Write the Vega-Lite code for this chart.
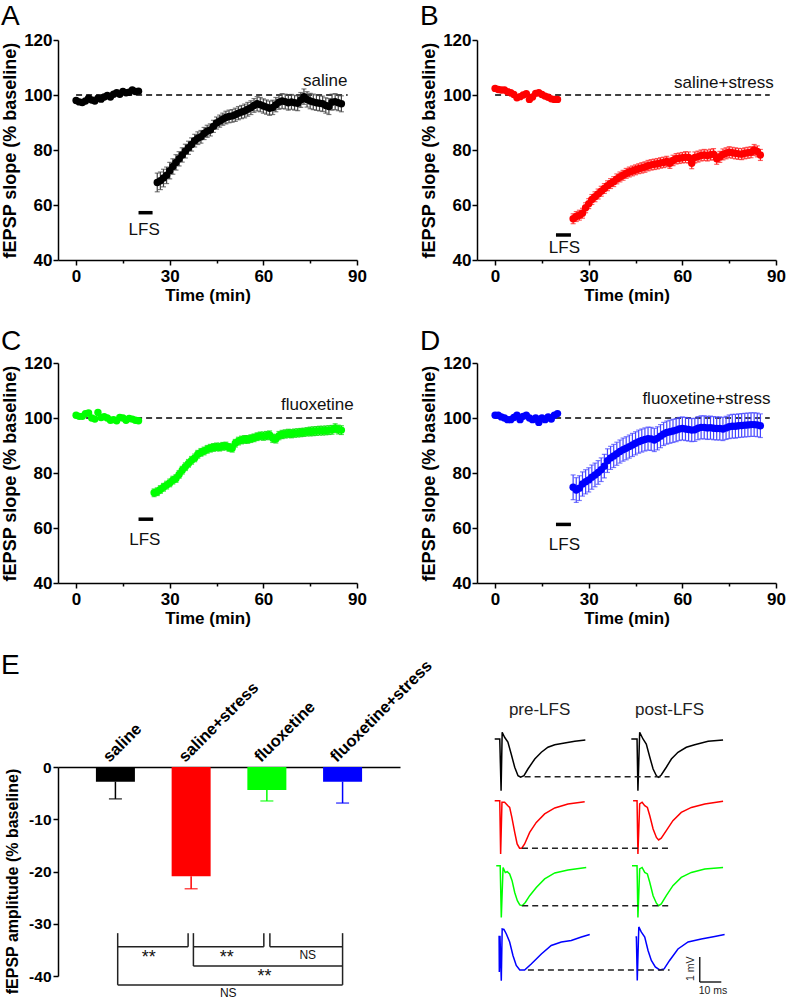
{
"$schema": "https://vega.github.io/schema/vega-lite/v6.json",
"background": "white",
"padding": {"left": 1, "top": 3, "right": 0, "bottom": 0},
"config": {
  "view": {"stroke": null},
  "font": "Liberation Sans",
  "axis": {"labelFont": "Liberation Sans", "labelFontWeight": "bold", "labelFontSize": 17, "labelColor": "black", "titleFont": "Liberation Sans", "titleFontWeight": "bold", "titleFontSize": 17, "titleColor": "black", "domainColor": "black", "domainWidth": 1.5, "tickColor": "black", "tickWidth": 1.5, "grid": false, "labelPadding": 2, "labelOverlap": false, "labelFlush": false},
  "title": {"font": "Liberation Sans", "fontSize": 28, "fontWeight": "normal", "anchor": "start", "color": "black"}
},
"datasets": {
  "A": [{"t":0,"v":98,"e":0.6},{"t":1,"v":97.5,"e":0.6},{"t":2,"v":97.3,"e":0.6},{"t":3,"v":97.8,"e":0.6},{"t":4,"v":98.8,"e":0.6},{"t":5,"v":98.2,"e":0.6},{"t":6,"v":97.8,"e":0.6},{"t":7,"v":98.8,"e":0.6},{"t":8,"v":98.5,"e":0.6},{"t":9,"v":99.3,"e":0.6},{"t":10,"v":99.8,"e":0.6},{"t":11,"v":99.3,"e":0.6},{"t":12,"v":100.3,"e":0.6},{"t":13,"v":100.8,"e":0.6},{"t":14,"v":100.3,"e":0.6},{"t":15,"v":101.3,"e":0.6},{"t":16,"v":100.8,"e":0.6},{"t":17,"v":101,"e":0.6},{"t":18,"v":101.8,"e":0.6},{"t":19,"v":101.3,"e":0.6},{"t":20,"v":101.4,"e":0.6},
  {"t":26,"v":68.2,"e":3.4},{"t":27,"v":68.8,"e":3.2},{"t":28,"v":69.8,"e":3.2},{"t":29,"v":70.8,"e":3},{"t":30,"v":72.5,"e":3},{"t":31,"v":74,"e":2.8},{"t":32,"v":75.5,"e":2.8},{"t":33,"v":76.8,"e":2.6},{"t":34,"v":78.2,"e":2.6},{"t":35,"v":79.6,"e":2.5},{"t":36,"v":80.8,"e":2.4},{"t":37,"v":82,"e":2.4},{"t":38,"v":83.4,"e":2.3},{"t":39,"v":84.3,"e":2.3},{"t":40,"v":84.8,"e":2.3},{"t":41,"v":86,"e":2.2},{"t":42,"v":86.8,"e":2.2},{"t":43,"v":87.3,"e":2.2},{"t":44,"v":88.6,"e":2.2},{"t":45,"v":89.8,"e":2.2},{"t":46,"v":90.5,"e":2.2},{"t":47,"v":91.2,"e":2.2},{"t":48,"v":91.8,"e":2.3},{"t":49,"v":92.2,"e":2.3},{"t":50,"v":92.4,"e":2.3},{"t":51,"v":92.8,"e":2.4},{"t":52,"v":93.4,"e":2.4},{"t":53,"v":93.8,"e":2.4},{"t":54,"v":94.2,"e":2.5},{"t":55,"v":94.8,"e":2.5},{"t":56,"v":95.4,"e":2.5},{"t":57,"v":96.2,"e":2.5},{"t":58,"v":96.8,"e":2.6},{"t":59,"v":96.5,"e":2.6},{"t":60,"v":96,"e":2.6},{"t":61,"v":95.6,"e":2.6},{"t":62,"v":95.2,"e":2.6},{"t":63,"v":95.5,"e":2.6},{"t":64,"v":96.5,"e":2.6},{"t":65,"v":97.4,"e":2.6},{"t":66,"v":97.8,"e":2.7},{"t":67,"v":97.6,"e":2.7},{"t":68,"v":97.2,"e":2.7},{"t":69,"v":97.5,"e":2.7},{"t":70,"v":97.2,"e":2.7},{"t":71,"v":97,"e":2.7},{"t":72,"v":98.2,"e":2.7},{"t":73,"v":99.4,"e":2.8},{"t":74,"v":98.4,"e":2.8},{"t":75,"v":97.8,"e":2.8},{"t":76,"v":97.5,"e":2.8},{"t":77,"v":97.2,"e":2.8},{"t":78,"v":97,"e":2.8},{"t":79,"v":96.8,"e":2.8},{"t":80,"v":96.2,"e":2.8},{"t":81,"v":95.8,"e":2.9},{"t":82,"v":97.4,"e":2.9},{"t":83,"v":97.6,"e":2.9},{"t":84,"v":97.2,"e":2.9},{"t":85,"v":96.8,"e":2.9}],
  "B": [{"t":0,"v":102.4,"e":0.6},{"t":1,"v":102,"e":0.6},{"t":2,"v":101.8,"e":0.6},{"t":3,"v":101.8,"e":0.6},{"t":4,"v":101.2,"e":0.6},{"t":5,"v":100.8,"e":0.6},{"t":6,"v":100.2,"e":0.6},{"t":7,"v":99,"e":0.6},{"t":8,"v":99.4,"e":0.6},{"t":9,"v":100,"e":0.6},{"t":10,"v":100.5,"e":0.6},{"t":11,"v":98.4,"e":0.6},{"t":12,"v":99.3,"e":0.6},{"t":13,"v":100.6,"e":0.6},{"t":14,"v":100.8,"e":0.6},{"t":15,"v":100.2,"e":0.6},{"t":16,"v":99.6,"e":0.6},{"t":17,"v":99.2,"e":0.6},{"t":18,"v":98.6,"e":0.6},{"t":19,"v":98.4,"e":0.6},{"t":20,"v":98.4,"e":0.6},
  {"t":25,"v":55,"e":1.8},{"t":26,"v":55.8,"e":1.8},{"t":27,"v":56.3,"e":1.8},{"t":28,"v":57,"e":1.8},{"t":29,"v":59,"e":1.8},{"t":30,"v":60.5,"e":1.8},{"t":31,"v":62,"e":1.8},{"t":32,"v":63,"e":1.8},{"t":33,"v":64,"e":1.8},{"t":34,"v":65,"e":1.8},{"t":35,"v":66,"e":1.8},{"t":36,"v":67,"e":1.8},{"t":37,"v":67.8,"e":1.8},{"t":38,"v":68.5,"e":1.8},{"t":39,"v":69.5,"e":1.8},{"t":40,"v":70.2,"e":1.8},{"t":41,"v":70.8,"e":1.8},{"t":42,"v":71.5,"e":1.8},{"t":43,"v":72,"e":1.8},{"t":44,"v":72.4,"e":1.8},{"t":45,"v":72.8,"e":1.8},{"t":46,"v":73.2,"e":1.8},{"t":47,"v":73.5,"e":1.9},{"t":48,"v":73.8,"e":1.9},{"t":49,"v":74.3,"e":1.9},{"t":50,"v":74.6,"e":1.9},{"t":51,"v":74.8,"e":1.9},{"t":52,"v":75,"e":1.9},{"t":53,"v":75.3,"e":1.9},{"t":54,"v":75.5,"e":1.9},{"t":55,"v":75.8,"e":1.9},{"t":56,"v":75.2,"e":1.9},{"t":57,"v":76.2,"e":1.9},{"t":58,"v":76.8,"e":1.9},{"t":59,"v":77,"e":1.9},{"t":60,"v":77.2,"e":1.9},{"t":61,"v":77.4,"e":2},{"t":62,"v":77.3,"e":2},{"t":63,"v":75.2,"e":2},{"t":64,"v":77.3,"e":2},{"t":65,"v":77.6,"e":2},{"t":66,"v":78,"e":2},{"t":67,"v":78.2,"e":2},{"t":68,"v":78,"e":2},{"t":69,"v":78.3,"e":2},{"t":70,"v":78.5,"e":2},{"t":71,"v":76.8,"e":2},{"t":72,"v":77.5,"e":2},{"t":73,"v":78.4,"e":2},{"t":74,"v":78.8,"e":2},{"t":75,"v":79.2,"e":2},{"t":76,"v":79,"e":2},{"t":77,"v":78.8,"e":2},{"t":78,"v":78.6,"e":2},{"t":79,"v":78.5,"e":2},{"t":80,"v":78.8,"e":2},{"t":81,"v":79,"e":2},{"t":82,"v":79.2,"e":2},{"t":83,"v":80,"e":2},{"t":84,"v":79.5,"e":2},{"t":85,"v":78.2,"e":2}],
  "C": [{"t":0,"v":101,"e":0.6},{"t":1,"v":100.6,"e":0.6},{"t":2,"v":100.6,"e":0.6},{"t":3,"v":101.6,"e":0.6},{"t":4,"v":101.8,"e":0.6},{"t":5,"v":100,"e":0.6},{"t":6,"v":99.6,"e":0.6},{"t":7,"v":102,"e":0.6},{"t":8,"v":100.2,"e":0.6},{"t":9,"v":100.5,"e":0.6},{"t":10,"v":100,"e":0.6},{"t":11,"v":99.2,"e":0.6},{"t":12,"v":99.4,"e":0.6},{"t":13,"v":99,"e":0.6},{"t":14,"v":100.2,"e":0.6},{"t":15,"v":100,"e":0.6},{"t":16,"v":99.2,"e":0.6},{"t":17,"v":99.8,"e":0.6},{"t":18,"v":99.6,"e":0.6},{"t":19,"v":99.2,"e":0.6},{"t":20,"v":99,"e":0.6},
  {"t":25,"v":72.8,"e":1.4},{"t":26,"v":73.2,"e":1.4},{"t":27,"v":74,"e":1.4},{"t":28,"v":74.8,"e":1.4},{"t":29,"v":75.6,"e":1.4},{"t":30,"v":76.4,"e":1.4},{"t":31,"v":77.4,"e":1.4},{"t":32,"v":78,"e":1.4},{"t":33,"v":79.5,"e":1.4},{"t":34,"v":81,"e":1.4},{"t":35,"v":82.3,"e":1.4},{"t":36,"v":83.5,"e":1.4},{"t":37,"v":84.6,"e":1.4},{"t":38,"v":85.5,"e":1.4},{"t":39,"v":86.8,"e":1.4},{"t":40,"v":87.5,"e":1.4},{"t":41,"v":88,"e":1.4},{"t":42,"v":88.6,"e":1.4},{"t":43,"v":89,"e":1.4},{"t":44,"v":89.3,"e":1.4},{"t":45,"v":89.5,"e":1.4},{"t":46,"v":89.4,"e":1.4},{"t":47,"v":89.7,"e":1.4},{"t":48,"v":89.8,"e":1.4},{"t":49,"v":89.3,"e":1.4},{"t":50,"v":89,"e":1.4},{"t":51,"v":90.8,"e":1.4},{"t":52,"v":91.6,"e":1.4},{"t":53,"v":92,"e":1.4},{"t":54,"v":92.2,"e":1.4},{"t":55,"v":92.2,"e":1.4},{"t":56,"v":92.5,"e":1.4},{"t":57,"v":92.8,"e":1.4},{"t":58,"v":93.2,"e":1.4},{"t":59,"v":93.5,"e":1.4},{"t":60,"v":93.4,"e":1.5},{"t":61,"v":93.6,"e":1.5},{"t":62,"v":93.8,"e":1.5},{"t":63,"v":92.6,"e":1.5},{"t":64,"v":92.4,"e":1.5},{"t":65,"v":93.6,"e":1.5},{"t":66,"v":94,"e":1.5},{"t":67,"v":94.2,"e":1.5},{"t":68,"v":94.4,"e":1.5},{"t":69,"v":94.3,"e":1.5},{"t":70,"v":94.5,"e":1.5},{"t":71,"v":94.6,"e":1.5},{"t":72,"v":94.7,"e":1.5},{"t":73,"v":94.8,"e":1.5},{"t":74,"v":95,"e":1.5},{"t":75,"v":95.1,"e":1.6},{"t":76,"v":95.2,"e":1.6},{"t":77,"v":95.3,"e":1.6},{"t":78,"v":95.4,"e":1.6},{"t":79,"v":95.4,"e":1.6},{"t":80,"v":95.5,"e":1.6},{"t":81,"v":95.6,"e":1.6},{"t":82,"v":95.7,"e":1.6},{"t":83,"v":96.3,"e":1.6},{"t":84,"v":95.8,"e":1.6},{"t":85,"v":95.6,"e":1.6}],
  "D": [{"t":0,"v":101,"e":0.6},{"t":1,"v":101,"e":0.6},{"t":2,"v":100.4,"e":0.6},{"t":3,"v":100,"e":0.6},{"t":4,"v":99.4,"e":0.6},{"t":5,"v":99.4,"e":0.6},{"t":6,"v":100.2,"e":0.6},{"t":7,"v":101,"e":0.6},{"t":8,"v":99.4,"e":0.6},{"t":9,"v":100.6,"e":0.6},{"t":10,"v":101,"e":0.6},{"t":11,"v":100,"e":0.6},{"t":12,"v":99.4,"e":0.6},{"t":13,"v":100,"e":0.6},{"t":14,"v":98.4,"e":0.6},{"t":15,"v":100,"e":0.6},{"t":16,"v":99.4,"e":0.6},{"t":17,"v":100.4,"e":0.6},{"t":18,"v":99.6,"e":0.6},{"t":19,"v":101,"e":0.6},{"t":20,"v":101.6,"e":0.6},
  {"t":25,"v":74.8,"e":4.5},{"t":26,"v":73.8,"e":4.5},{"t":27,"v":74.5,"e":4.5},{"t":28,"v":76,"e":4.4},{"t":29,"v":76.8,"e":4.4},{"t":30,"v":77.5,"e":4.4},{"t":31,"v":78.5,"e":4.4},{"t":32,"v":79.3,"e":4.3},{"t":33,"v":80.2,"e":4.3},{"t":34,"v":81.2,"e":4.3},{"t":35,"v":82.5,"e":4.3},{"t":36,"v":84.5,"e":4.3},{"t":37,"v":85.5,"e":4.2},{"t":38,"v":86.2,"e":4.2},{"t":39,"v":87,"e":4.2},{"t":40,"v":87.8,"e":4.2},{"t":41,"v":88.5,"e":4.2},{"t":42,"v":89,"e":4.2},{"t":43,"v":89.6,"e":4.2},{"t":44,"v":90.2,"e":4.2},{"t":45,"v":90.8,"e":4.2},{"t":46,"v":91.4,"e":4.2},{"t":47,"v":91.8,"e":4.2},{"t":48,"v":92.2,"e":4.2},{"t":49,"v":92.5,"e":4.2},{"t":50,"v":92.4,"e":4.2},{"t":51,"v":92,"e":4.2},{"t":52,"v":92.6,"e":4.2},{"t":53,"v":93.4,"e":4.2},{"t":54,"v":94.2,"e":4.2},{"t":55,"v":94.7,"e":4.2},{"t":56,"v":95,"e":4.2},{"t":57,"v":95.3,"e":4.2},{"t":58,"v":95.6,"e":4.2},{"t":59,"v":96,"e":4.2},{"t":60,"v":96.2,"e":4.2},{"t":61,"v":96,"e":4.2},{"t":62,"v":95.8,"e":4.2},{"t":63,"v":95.6,"e":4.2},{"t":64,"v":95.7,"e":4.2},{"t":65,"v":96.3,"e":4.2},{"t":66,"v":96.6,"e":4.2},{"t":67,"v":96.6,"e":4.2},{"t":68,"v":96.4,"e":4.2},{"t":69,"v":96.5,"e":4.2},{"t":70,"v":96.3,"e":4.2},{"t":71,"v":96.2,"e":4.2},{"t":72,"v":96.2,"e":4.2},{"t":73,"v":96,"e":4.2},{"t":74,"v":96.4,"e":4.2},{"t":75,"v":96.8,"e":4.3},{"t":76,"v":97,"e":4.3},{"t":77,"v":97,"e":4.3},{"t":78,"v":97.2,"e":4.3},{"t":79,"v":97.3,"e":4.3},{"t":80,"v":97.4,"e":4.3},{"t":81,"v":97.5,"e":4.3},{"t":82,"v":97.6,"e":4.3},{"t":83,"v":97.6,"e":4.3},{"t":84,"v":97.5,"e":4.3},{"t":85,"v":97.2,"e":4.3}],
  "bars": [{"g":"saline","i":1,"m":-2.8,"lo":-6.1},{"g":"saline+stress","i":2,"m":-20.9,"lo":-23.3},{"g":"fluoxetine","i":3,"m":-4.4,"lo":-6.5},{"g":"fluoxetine+stress","i":4,"m":-2.8,"lo":-6.9}],
  "tr": [
  {"g":"saline","ph":"pre","t":0,"v":0},{"g":"saline","ph":"pre","t":2.3,"v":0},{"g":"saline","ph":"pre","t":2.9,"v":-2.07},{"g":"saline","ph":"pre","t":3.4,"v":0.27},{"g":"saline","ph":"pre","t":4.5,"v":0.07},{"g":"saline","ph":"pre","t":6.0,"v":-0.12},{"g":"saline","ph":"pre","t":7.5,"v":-0.6},{"g":"saline","ph":"pre","t":9.1,"v":-1.13},{"g":"saline","ph":"pre","t":10.6,"v":-1.47},{"g":"saline","ph":"pre","t":11.8,"v":-1.53},{"g":"saline","ph":"pre","t":13.3,"v":-1.47},{"g":"saline","ph":"pre","t":15.1,"v":-1.2},{"g":"saline","ph":"pre","t":18.2,"v":-0.8},{"g":"saline","ph":"pre","t":21.2,"v":-0.53},{"g":"saline","ph":"pre","t":24.2,"v":-0.33},{"g":"saline","ph":"pre","t":27.3,"v":-0.23},{"g":"saline","ph":"pre","t":31.8,"v":-0.16},{"g":"saline","ph":"pre","t":36.4,"v":-0.09},{"g":"saline","ph":"pre","t":41.2,"v":-0.04},
  {"g":"saline","ph":"post","t":62.1,"v":0},{"g":"saline","ph":"post","t":64.7,"v":0},{"g":"saline","ph":"post","t":65.1,"v":-2.07},{"g":"saline","ph":"post","t":65.9,"v":0.27},{"g":"saline","ph":"post","t":67.4,"v":0},{"g":"saline","ph":"post","t":68.9,"v":-0.2},{"g":"saline","ph":"post","t":70.5,"v":-0.73},{"g":"saline","ph":"post","t":72.0,"v":-1.2},{"g":"saline","ph":"post","t":73.5,"v":-1.47},{"g":"saline","ph":"post","t":74.5,"v":-1.53},{"g":"saline","ph":"post","t":75.7,"v":-1.44},{"g":"saline","ph":"post","t":78.0,"v":-1.13},{"g":"saline","ph":"post","t":80.3,"v":-0.8},{"g":"saline","ph":"post","t":83.3,"v":-0.53},{"g":"saline","ph":"post","t":87.1,"v":-0.33},{"g":"saline","ph":"post","t":90.9,"v":-0.23},{"g":"saline","ph":"post","t":97.0,"v":-0.09},{"g":"saline","ph":"post","t":103.8,"v":-0.04},
  {"g":"saline+stress","ph":"pre","t":0,"v":0},{"g":"saline+stress","ph":"pre","t":2.3,"v":0},{"g":"saline+stress","ph":"pre","t":2.7,"v":-2.13},{"g":"saline+stress","ph":"pre","t":3.3,"v":-0.06},{"g":"saline+stress","ph":"pre","t":4.5,"v":-0.06},{"g":"saline+stress","ph":"pre","t":6.0,"v":-0.2},{"g":"saline+stress","ph":"pre","t":6.8,"v":-0.27},{"g":"saline+stress","ph":"pre","t":7.8,"v":-0.67},{"g":"saline+stress","ph":"pre","t":9.1,"v":-1.27},{"g":"saline+stress","ph":"pre","t":10.2,"v":-1.73},{"g":"saline+stress","ph":"pre","t":11.3,"v":-1.9},{"g":"saline+stress","ph":"pre","t":12.3,"v":-1.9},{"g":"saline+stress","ph":"pre","t":13.6,"v":-1.73},{"g":"saline+stress","ph":"pre","t":15.9,"v":-1.27},{"g":"saline+stress","ph":"pre","t":18.9,"v":-0.87},{"g":"saline+stress","ph":"pre","t":22.7,"v":-0.53},{"g":"saline+stress","ph":"pre","t":27.3,"v":-0.29},{"g":"saline+stress","ph":"pre","t":33.3,"v":-0.13},{"g":"saline+stress","ph":"pre","t":40.9,"v":-0.04},
  {"g":"saline+stress","ph":"post","t":62.9,"v":0},{"g":"saline+stress","ph":"post","t":64.7,"v":0},{"g":"saline+stress","ph":"post","t":65.1,"v":-2.13},{"g":"saline+stress","ph":"post","t":65.9,"v":-0.13},{"g":"saline+stress","ph":"post","t":67.0,"v":-0.06},{"g":"saline+stress","ph":"post","t":68.2,"v":-0.2},{"g":"saline+stress","ph":"post","t":69.4,"v":-0.27},{"g":"saline+stress","ph":"post","t":70.5,"v":-0.6},{"g":"saline+stress","ph":"post","t":72.0,"v":-1.13},{"g":"saline+stress","ph":"post","t":73.5,"v":-1.47},{"g":"saline+stress","ph":"post","t":74.5,"v":-1.57},{"g":"saline+stress","ph":"post","t":75.7,"v":-1.5},{"g":"saline+stress","ph":"post","t":78.0,"v":-1.2},{"g":"saline+stress","ph":"post","t":81.0,"v":-0.8},{"g":"saline+stress","ph":"post","t":84.8,"v":-0.47},{"g":"saline+stress","ph":"post","t":89.4,"v":-0.27},{"g":"saline+stress","ph":"post","t":95.5,"v":-0.13},{"g":"saline+stress","ph":"post","t":103.8,"v":-0.02},
  {"g":"fluoxetine","ph":"pre","t":0.7,"v":0},{"g":"fluoxetine","ph":"pre","t":2.5,"v":0},{"g":"fluoxetine","ph":"pre","t":3.0,"v":-2.07},{"g":"fluoxetine","ph":"pre","t":3.8,"v":-0.07},{"g":"fluoxetine","ph":"pre","t":4.8,"v":-0.27},{"g":"fluoxetine","ph":"pre","t":5.7,"v":-0.24},{"g":"fluoxetine","ph":"pre","t":6.8,"v":-0.33},{"g":"fluoxetine","ph":"pre","t":7.9,"v":-0.6},{"g":"fluoxetine","ph":"pre","t":9.1,"v":-1.07},{"g":"fluoxetine","ph":"pre","t":10.3,"v":-1.4},{"g":"fluoxetine","ph":"pre","t":11.4,"v":-1.57},{"g":"fluoxetine","ph":"pre","t":12.5,"v":-1.6},{"g":"fluoxetine","ph":"pre","t":13.9,"v":-1.47},{"g":"fluoxetine","ph":"pre","t":15.9,"v":-1.2},{"g":"fluoxetine","ph":"pre","t":18.9,"v":-0.87},{"g":"fluoxetine","ph":"pre","t":22.7,"v":-0.53},{"g":"fluoxetine","ph":"pre","t":27.3,"v":-0.29},{"g":"fluoxetine","ph":"pre","t":33.3,"v":-0.17},{"g":"fluoxetine","ph":"pre","t":41.6,"v":-0.07},
  {"g":"fluoxetine","ph":"post","t":62.4,"v":0},{"g":"fluoxetine","ph":"post","t":64.7,"v":0},{"g":"fluoxetine","ph":"post","t":65.1,"v":-2.07},{"g":"fluoxetine","ph":"post","t":65.9,"v":-0.13},{"g":"fluoxetine","ph":"post","t":67.0,"v":-0.07},{"g":"fluoxetine","ph":"post","t":68.2,"v":-0.27},{"g":"fluoxetine","ph":"post","t":69.4,"v":-0.33},{"g":"fluoxetine","ph":"post","t":70.5,"v":-0.67},{"g":"fluoxetine","ph":"post","t":72.0,"v":-1.2},{"g":"fluoxetine","ph":"post","t":73.5,"v":-1.5},{"g":"fluoxetine","ph":"post","t":74.5,"v":-1.6},{"g":"fluoxetine","ph":"post","t":75.7,"v":-1.53},{"g":"fluoxetine","ph":"post","t":78.0,"v":-1.2},{"g":"fluoxetine","ph":"post","t":81.0,"v":-0.8},{"g":"fluoxetine","ph":"post","t":84.8,"v":-0.47},{"g":"fluoxetine","ph":"post","t":89.4,"v":-0.27},{"g":"fluoxetine","ph":"post","t":95.5,"v":-0.13},{"g":"fluoxetine","ph":"post","t":103.8,"v":-0.07},
  {"g":"fluoxetine+stress","ph":"pre","t":2.0,"v":0},{"g":"fluoxetine+stress","ph":"pre","t":2.1,"v":-1.45},{"g":"fluoxetine+stress","ph":"pre","t":2.4,"v":0},{"g":"fluoxetine+stress","ph":"pre","t":3.0,"v":-1.8},{"g":"fluoxetine+stress","ph":"pre","t":3.4,"v":0.27},{"g":"fluoxetine+stress","ph":"pre","t":4.2,"v":0.25},{"g":"fluoxetine+stress","ph":"pre","t":5.3,"v":0.07},{"g":"fluoxetine+stress","ph":"pre","t":6.8,"v":-0.25},{"g":"fluoxetine+stress","ph":"pre","t":8.3,"v":-0.79},{"g":"fluoxetine+stress","ph":"pre","t":9.8,"v":-1.19},{"g":"fluoxetine+stress","ph":"pre","t":11.4,"v":-1.37},{"g":"fluoxetine+stress","ph":"pre","t":13.6,"v":-1.37},{"g":"fluoxetine+stress","ph":"pre","t":16.6,"v":-1.13},{"g":"fluoxetine+stress","ph":"pre","t":21.2,"v":-0.73},{"g":"fluoxetine+stress","ph":"pre","t":25.7,"v":-0.39},{"g":"fluoxetine+stress","ph":"pre","t":30.3,"v":-0.25},{"g":"fluoxetine+stress","ph":"pre","t":34.8,"v":-0.19},{"g":"fluoxetine+stress","ph":"pre","t":39.4,"v":-0.05},{"g":"fluoxetine+stress","ph":"pre","t":43.2,"v":0.05},
  {"g":"fluoxetine+stress","ph":"post","t":64.0,"v":-0.05},{"g":"fluoxetine+stress","ph":"post","t":64.4,"v":-0.05},{"g":"fluoxetine+stress","ph":"post","t":64.8,"v":-1.79},{"g":"fluoxetine+stress","ph":"post","t":65.5,"v":0.35},{"g":"fluoxetine+stress","ph":"post","t":66.6,"v":0.15},{"g":"fluoxetine+stress","ph":"post","t":68.2,"v":-0.05},{"g":"fluoxetine+stress","ph":"post","t":69.7,"v":-0.59},{"g":"fluoxetine+stress","ph":"post","t":71.2,"v":-0.99},{"g":"fluoxetine+stress","ph":"post","t":73.0,"v":-1.25},{"g":"fluoxetine+stress","ph":"post","t":75.0,"v":-1.37},{"g":"fluoxetine+stress","ph":"post","t":77.0,"v":-1.33},{"g":"fluoxetine+stress","ph":"post","t":79.5,"v":-0.99},{"g":"fluoxetine+stress","ph":"post","t":83.3,"v":-0.53},{"g":"fluoxetine+stress","ph":"post","t":87.9,"v":-0.25},{"g":"fluoxetine+stress","ph":"post","t":93.9,"v":-0.13},{"g":"fluoxetine+stress","ph":"post","t":100.0,"v":-0.03},{"g":"fluoxetine+stress","ph":"post","t":104.5,"v":0.05}
  ]
},
"spacing": 25,
"vconcat": [
 {"hconcat": [
  {"width": 299, "height": 220,
   "title": {"text": "A", "frame": "group", "dx": -57, "offset": -22, "baseline": "alphabetic"},
   "layer": [
    {"data": {"values": [{"t":0,"t2":87,"v":100}]}, "mark": {"type":"rule","strokeDash":[6,4],"strokeWidth":1.5,"color":"black"},
     "encoding": {"x": {"field":"t","type":"quantitative","title":"Time (min)","scale":{"domain":[-5.8,90],"nice":false,"zero":false},"axis":{"values":[0,15,30,45,60,75,90],"labelExpr":"datum.value % 30 === 0 ? datum.label : ''","tickSize":{"condition":{"test":"datum.value % 30 === 0","value":5},"value":3},"labelPadding":3,"titlePadding":3}},
      "x2": {"field":"t2"},
      "y": {"field":"v","type":"quantitative","title":"fEPSP slope (% baseline)","scale":{"domain":[40,120],"nice":false,"zero":false},"axis":{"values":[40,50,60,70,80,90,100,110,120],"labelExpr":"datum.value % 20 === 0 ? datum.label : ''","tickSize":{"condition":{"test":"datum.value % 20 === 0","value":5},"value":3},"titleFontSize":18,"titlePadding":4,"labelPadding":1}}}},
    {"data": {"values": [{"t":20,"t2":24.5,"v":57.2}]}, "mark": {"type":"rule","strokeWidth":3.5,"color":"black"},
     "encoding": {"x": {"field":"t","type":"quantitative","title":"Time (min)","scale":{"domain":[-5.8,90],"nice":false,"zero":false}}, "x2": {"field":"t2"}, "y": {"field":"v","type":"quantitative","title":"fEPSP slope (% baseline)","scale":{"domain":[40,120],"nice":false,"zero":false}}}},
    {"data": {"values": [{"t":21.8,"v":50.8,"s":"LFS"},{"t":79.8,"v":105,"s":"saline"}]}, "mark": {"type":"text","fontSize":17,"baseline":"middle","align":"center","color":"#111111"},
     "encoding": {"x": {"field":"t","type":"quantitative","title":"Time (min)","scale":{"domain":[-5.8,90],"nice":false,"zero":false}}, "y": {"field":"v","type":"quantitative","title":"fEPSP slope (% baseline)","scale":{"domain":[40,120],"nice":false,"zero":false}}, "text": {"field":"s"}}},
    {"data": {"name": "A"}, "mark": {"type":"errorbar","ticks":true,"size":5,"thickness":1.2,"color":"#444444"},
     "encoding": {"x": {"field":"t","type":"quantitative","title":"Time (min)","scale":{"domain":[-5.8,90],"nice":false,"zero":false}}, "y": {"field":"v","type":"quantitative","title":"fEPSP slope (% baseline)","scale":{"domain":[40,120],"nice":false,"zero":false}}, "yError": {"field":"e"}}},
    {"data": {"name": "A"}, "mark": {"type":"circle","size":55,"opacity":1,"color":"black"},
     "encoding": {"x": {"field":"t","type":"quantitative","title":"Time (min)","scale":{"domain":[-5.8,90],"nice":false,"zero":false}}, "y": {"field":"v","type":"quantitative","title":"fEPSP slope (% baseline)","scale":{"domain":[40,120],"nice":false,"zero":false}}}}
   ]},
  {"width": 299, "height": 220,
   "title": {"text": "B", "frame": "group", "dx": -57, "offset": -22, "baseline": "alphabetic"},
   "layer": [
    {"data": {"values": [{"t":0,"t2":88,"v":100}]}, "mark": {"type":"rule","strokeDash":[6,4],"strokeWidth":1.5,"color":"black"},
     "encoding": {"x": {"field":"t","type":"quantitative","title":"Time (min)","scale":{"domain":[-5.8,90],"nice":false,"zero":false},"axis":{"values":[0,15,30,45,60,75,90],"labelExpr":"datum.value % 30 === 0 ? datum.label : ''","tickSize":{"condition":{"test":"datum.value % 30 === 0","value":5},"value":3},"labelPadding":3,"titlePadding":3}},
      "x2": {"field":"t2"},
      "y": {"field":"v","type":"quantitative","title":"fEPSP slope (% baseline)","scale":{"domain":[40,120],"nice":false,"zero":false},"axis":{"values":[40,50,60,70,80,90,100,110,120],"labelExpr":"datum.value % 20 === 0 ? datum.label : ''","tickSize":{"condition":{"test":"datum.value % 20 === 0","value":5},"value":3},"titleFontSize":18,"titlePadding":4,"labelPadding":1}}}},
    {"data": {"values": [{"t":19.5,"t2":24.3,"v":49.1}]}, "mark": {"type":"rule","strokeWidth":3.5,"color":"black"},
     "encoding": {"x": {"field":"t","type":"quantitative","title":"Time (min)","scale":{"domain":[-5.8,90],"nice":false,"zero":false}}, "x2": {"field":"t2"}, "y": {"field":"v","type":"quantitative","title":"fEPSP slope (% baseline)","scale":{"domain":[40,120],"nice":false,"zero":false}}}},
    {"data": {"values": [{"t":22.2,"v":44.3,"s":"LFS"},{"t":73.3,"v":104.5,"s":"saline+stress"}]}, "mark": {"type":"text","fontSize":17,"baseline":"middle","align":"center","color":"#111111"},
     "encoding": {"x": {"field":"t","type":"quantitative","title":"Time (min)","scale":{"domain":[-5.8,90],"nice":false,"zero":false}}, "y": {"field":"v","type":"quantitative","title":"fEPSP slope (% baseline)","scale":{"domain":[40,120],"nice":false,"zero":false}}, "text": {"field":"s"}}},
    {"data": {"name": "B"}, "mark": {"type":"errorbar","ticks":true,"size":5,"thickness":1.2,"color":"#ff2020"},
     "encoding": {"x": {"field":"t","type":"quantitative","title":"Time (min)","scale":{"domain":[-5.8,90],"nice":false,"zero":false}}, "y": {"field":"v","type":"quantitative","title":"fEPSP slope (% baseline)","scale":{"domain":[40,120],"nice":false,"zero":false}}, "yError": {"field":"e"}}},
    {"data": {"name": "B"}, "mark": {"type":"circle","size":55,"opacity":1,"color":"#ff0000"},
     "encoding": {"x": {"field":"t","type":"quantitative","title":"Time (min)","scale":{"domain":[-5.8,90],"nice":false,"zero":false}}, "y": {"field":"v","type":"quantitative","title":"fEPSP slope (% baseline)","scale":{"domain":[40,120],"nice":false,"zero":false}}}}
   ]}
 ], "spacing": 120, "bounds": "flush"},
 {"hconcat": [
  {"width": 299, "height": 220,
   "title": {"text": "C", "frame": "group", "dx": -57, "offset": -24, "baseline": "alphabetic"},
   "layer": [
    {"data": {"values": [{"t":0,"t2":86.5,"v":100}]}, "mark": {"type":"rule","strokeDash":[6,4],"strokeWidth":1.5,"color":"black"},
     "encoding": {"x": {"field":"t","type":"quantitative","title":"Time (min)","scale":{"domain":[-5.8,90],"nice":false,"zero":false},"axis":{"values":[0,15,30,45,60,75,90],"labelExpr":"datum.value % 30 === 0 ? datum.label : ''","tickSize":{"condition":{"test":"datum.value % 30 === 0","value":5},"value":3},"labelPadding":3,"titlePadding":3}},
      "x2": {"field":"t2"},
      "y": {"field":"v","type":"quantitative","title":"fEPSP slope (% baseline)","scale":{"domain":[40,120],"nice":false,"zero":false},"axis":{"values":[40,50,60,70,80,90,100,110,120],"labelExpr":"datum.value % 20 === 0 ? datum.label : ''","tickSize":{"condition":{"test":"datum.value % 20 === 0","value":5},"value":3},"titleFontSize":18,"titlePadding":4,"labelPadding":1}}}},
    {"data": {"values": [{"t":20,"t2":24.7,"v":63.2}]}, "mark": {"type":"rule","strokeWidth":3.5,"color":"black"},
     "encoding": {"x": {"field":"t","type":"quantitative","title":"Time (min)","scale":{"domain":[-5.8,90],"nice":false,"zero":false}}, "x2": {"field":"t2"}, "y": {"field":"v","type":"quantitative","title":"fEPSP slope (% baseline)","scale":{"domain":[40,120],"nice":false,"zero":false}}}},
    {"data": {"values": [{"t":22,"v":55.8,"s":"LFS"},{"t":77.3,"v":104.7,"s":"fluoxetine"}]}, "mark": {"type":"text","fontSize":17,"baseline":"middle","align":"center","color":"#111111"},
     "encoding": {"x": {"field":"t","type":"quantitative","title":"Time (min)","scale":{"domain":[-5.8,90],"nice":false,"zero":false}}, "y": {"field":"v","type":"quantitative","title":"fEPSP slope (% baseline)","scale":{"domain":[40,120],"nice":false,"zero":false}}, "text": {"field":"s"}}},
    {"data": {"name": "C"}, "mark": {"type":"errorbar","ticks":true,"size":5,"thickness":1.2,"color":"#00dd00"},
     "encoding": {"x": {"field":"t","type":"quantitative","title":"Time (min)","scale":{"domain":[-5.8,90],"nice":false,"zero":false}}, "y": {"field":"v","type":"quantitative","title":"fEPSP slope (% baseline)","scale":{"domain":[40,120],"nice":false,"zero":false}}, "yError": {"field":"e"}}},
    {"data": {"name": "C"}, "mark": {"type":"circle","size":55,"opacity":1,"color":"#00ff00"},
     "encoding": {"x": {"field":"t","type":"quantitative","title":"Time (min)","scale":{"domain":[-5.8,90],"nice":false,"zero":false}}, "y": {"field":"v","type":"quantitative","title":"fEPSP slope (% baseline)","scale":{"domain":[40,120],"nice":false,"zero":false}}}}
   ]},
  {"width": 299, "height": 220,
   "title": {"text": "D", "frame": "group", "dx": -57, "offset": -24, "baseline": "alphabetic"},
   "layer": [
    {"data": {"values": [{"t":0,"t2":88,"v":100}]}, "mark": {"type":"rule","strokeDash":[6,4],"strokeWidth":1.5,"color":"black"},
     "encoding": {"x": {"field":"t","type":"quantitative","title":"Time (min)","scale":{"domain":[-5.8,90],"nice":false,"zero":false},"axis":{"values":[0,15,30,45,60,75,90],"labelExpr":"datum.value % 30 === 0 ? datum.label : ''","tickSize":{"condition":{"test":"datum.value % 30 === 0","value":5},"value":3},"labelPadding":3,"titlePadding":3}},
      "x2": {"field":"t2"},
      "y": {"field":"v","type":"quantitative","title":"fEPSP slope (% baseline)","scale":{"domain":[40,120],"nice":false,"zero":false},"axis":{"values":[40,50,60,70,80,90,100,110,120],"labelExpr":"datum.value % 20 === 0 ? datum.label : ''","tickSize":{"condition":{"test":"datum.value % 20 === 0","value":5},"value":3},"titleFontSize":18,"titlePadding":4,"labelPadding":1}}}},
    {"data": {"values": [{"t":19.5,"t2":24.3,"v":61.3}]}, "mark": {"type":"rule","strokeWidth":3.5,"color":"black"},
     "encoding": {"x": {"field":"t","type":"quantitative","title":"Time (min)","scale":{"domain":[-5.8,90],"nice":false,"zero":false}}, "x2": {"field":"t2"}, "y": {"field":"v","type":"quantitative","title":"fEPSP slope (% baseline)","scale":{"domain":[40,120],"nice":false,"zero":false}}}},
    {"data": {"values": [{"t":22.2,"v":54,"s":"LFS"},{"t":67.7,"v":106.8,"s":"fluoxetine+stress"}]}, "mark": {"type":"text","fontSize":17,"baseline":"middle","align":"center","color":"#111111"},
     "encoding": {"x": {"field":"t","type":"quantitative","title":"Time (min)","scale":{"domain":[-5.8,90],"nice":false,"zero":false}}, "y": {"field":"v","type":"quantitative","title":"fEPSP slope (% baseline)","scale":{"domain":[40,120],"nice":false,"zero":false}}, "text": {"field":"s"}}},
    {"data": {"name": "D"}, "mark": {"type":"errorbar","ticks":true,"size":5,"thickness":1.2,"color":"#4444ff"},
     "encoding": {"x": {"field":"t","type":"quantitative","title":"Time (min)","scale":{"domain":[-5.8,90],"nice":false,"zero":false}}, "y": {"field":"v","type":"quantitative","title":"fEPSP slope (% baseline)","scale":{"domain":[40,120],"nice":false,"zero":false}}, "yError": {"field":"e"}}},
    {"data": {"name": "D"}, "mark": {"type":"circle","size":55,"opacity":1,"color":"#0000ff"},
     "encoding": {"x": {"field":"t","type":"quantitative","title":"Time (min)","scale":{"domain":[-5.8,90],"nice":false,"zero":false}}, "y": {"field":"v","type":"quantitative","title":"fEPSP slope (% baseline)","scale":{"domain":[40,120],"nice":false,"zero":false}}}}
   ]}
 ], "spacing": 120, "bounds": "flush"},
 {"hconcat": [
  {"width": 342, "height": 209,
   "title": {"text": "E", "frame": "group", "dx": -57, "offset": -44, "baseline": "alphabetic"},
   "layer": [
    {"data": {"name": "bars"}, "mark": {"type":"bar","orient":"vertical","width":39},
     "encoding": {"x": {"field":"i","type":"quantitative","title":null,"scale":{"domain":[0.3077,4.6923],"nice":false,"zero":false},"axis":{"orient":"top","labels":false,"ticks":false,"domain":true}},
      "y": {"field":"m","type":"quantitative","title":"fEPSP amplitude (% baseline)","scale":{"domain":[-40,0],"nice":false,"zero":false},"axis":{"values":[-40,-35,-30,-25,-20,-15,-10,-5,0],"labelExpr":"datum.value % 10 === 0 ? (datum.value < 0 ? '-' + abs(datum.value) : '0') : ''","tickSize":{"condition":{"test":"datum.value % 10 === 0","value":5},"value":3},"titleFontSize":16,"labelFontSize":15.5,"titlePadding":8,"labelPadding":2,"titleY":114}},
      "color": {"field":"g","type":"nominal","scale":{"domain":["saline","saline+stress","fluoxetine","fluoxetine+stress"],"range":["#000000","#ff0000","#00ff00","#0000ff"]},"legend":null}}},
    {"data": {"name": "bars"}, "mark": {"type":"rule","strokeWidth":1.5},
     "encoding": {"x": {"field":"i","type":"quantitative","title":null,"scale":{"domain":[0.3077,4.6923],"nice":false,"zero":false}}, "y": {"field":"m","type":"quantitative","title":"fEPSP amplitude (% baseline)","scale":{"domain":[-40,0],"nice":false,"zero":false}}, "y2": {"field":"lo"},
      "color": {"field":"g","type":"nominal","scale":{"domain":["saline","saline+stress","fluoxetine","fluoxetine+stress"],"range":["#000000","#ff0000","#00ff00","#0000ff"]},"legend":null}}},
    {"data": {"name": "bars"}, "mark": {"type":"tick","orient":"horizontal","size":13,"thickness":1.5},
     "encoding": {"x": {"field":"i","type":"quantitative","title":null,"scale":{"domain":[0.3077,4.6923],"nice":false,"zero":false}}, "y": {"field":"lo","type":"quantitative","title":"fEPSP amplitude (% baseline)","scale":{"domain":[-40,0],"nice":false,"zero":false}},
      "color": {"field":"g","type":"nominal","scale":{"domain":["saline","saline+stress","fluoxetine","fluoxetine+stress"],"range":["#000000","#ff0000","#00ff00","#0000ff"]},"legend":null}}},
    {"data": {"name": "bars"}, "mark": {"type":"text","angle":-45,"align":"left","baseline":"alphabetic","fontSize":16.5,"fontWeight":"bold","color":"black","dx":-1.4,"dy":-7},
     "encoding": {"x": {"field":"i","type":"quantitative","title":null,"scale":{"domain":[0.3077,4.6923],"nice":false,"zero":false}}, "y": {"datum": 0, "type":"quantitative","title":"fEPSP amplitude (% baseline)","scale":{"domain":[-40,0],"nice":false,"zero":false}}, "text": {"field":"g"}}},
    {"data": {"values": [{"i":1.03,"i2":1.96,"m":-34.4,"m2":-34.4},{"i":2.03,"i2":2.96,"m":-34.4,"m2":-34.4},{"i":3.04,"i2":4.0,"m":-34.4,"m2":-34.4},{"i":2.03,"i2":4.0,"m":-38.1,"m2":-38.1},{"i":1.03,"i2":4.0,"m":-41.7,"m2":-41.7},{"i":1.03,"i2":1.03,"m":-31.8,"m2":-41.7},{"i":1.96,"i2":1.96,"m":-31.8,"m2":-34.4},{"i":2.03,"i2":2.03,"m":-31.8,"m2":-38.1},{"i":2.96,"i2":2.96,"m":-31.8,"m2":-34.4},{"i":3.04,"i2":3.04,"m":-31.8,"m2":-34.4},{"i":4.0,"i2":4.0,"m":-31.8,"m2":-41.7}]},
     "mark": {"type":"rule","strokeWidth":1.5,"color":"#222222"},
     "encoding": {"x": {"field":"i","type":"quantitative","title":null,"scale":{"domain":[0.3077,4.6923],"nice":false,"zero":false}}, "x2": {"field":"i2"}, "y": {"field":"m","type":"quantitative","title":"fEPSP amplitude (% baseline)","scale":{"domain":[-40,0],"nice":false,"zero":false}}, "y2": {"field":"m2"}}},
    {"data": {"values": [{"i":1.44,"m":-36.5,"s":"**"},{"i":2.47,"m":-36.5,"s":"**"},{"i":3.54,"m":-36.0,"s":"NS"},{"i":2.97,"m":-40.2,"s":"**"},{"i":2.49,"m":-43.2,"s":"NS"}]},
     "mark": {"type":"text","baseline":"middle","align":"center","color":"#111111"},
     "encoding": {"x": {"field":"i","type":"quantitative","title":null,"scale":{"domain":[0.3077,4.6923],"nice":false,"zero":false}}, "y": {"field":"m","type":"quantitative","title":"fEPSP amplitude (% baseline)","scale":{"domain":[-40,0],"nice":false,"zero":false}}, "text": {"field":"s"},
      "size": {"condition": {"test": "datum.s === '**'", "value": 18}, "value": 12}}}
   ]},
  {"width": 265, "height": 209,
   "resolve": {"scale": {"y": "independent"}},
   "layer": [
    {"layer": [
      {"data": {"name": "tr"}, "transform": [{"filter": "datum.g === 'saline'"}], "mark": {"type":"line","color":"black","strokeWidth":1.5},
       "encoding": {"x": {"field":"t","type":"quantitative","scale":{"domain":[-7.59,112.86],"nice":false,"zero":false},"axis":null}, "y": {"field":"v","type":"quantitative","scale":{"domain":[-9.48,-1.12],"nice":false,"zero":false},"axis":null}, "detail": {"field":"ph"}}},
      {"data": {"values": [{"t":13.6,"t2":79.5,"v":-1.51}]}, "mark": {"type":"rule","strokeDash":[6,4],"strokeWidth":1.5,"color":"#222222"},
       "encoding": {"x": {"field":"t","type":"quantitative","scale":{"domain":[-7.59,112.86],"nice":false,"zero":false},"axis":null}, "x2": {"field":"t2"}, "y": {"field":"v","type":"quantitative","scale":{"domain":[-9.48,-1.12],"nice":false,"zero":false},"axis":null}}},
      {"data": {"values": [{"t":20.4,"v":1.17,"s":"pre-LFS"},{"t":79.5,"v":1.17,"s":"post-LFS"}]}, "mark": {"type":"text","fontSize":17,"baseline":"middle","align":"center","color":"#222222"},
       "encoding": {"x": {"field":"t","type":"quantitative","scale":{"domain":[-7.59,112.86],"nice":false,"zero":false},"axis":null}, "y": {"field":"v","type":"quantitative","scale":{"domain":[-9.48,-1.12],"nice":false,"zero":false},"axis":null}, "text": {"field":"s"}}}
    ]},
    {"layer": [
      {"data": {"name": "tr"}, "transform": [{"filter": "datum.g === 'saline+stress'"}], "mark": {"type":"line","color":"#ff0000","strokeWidth":1.5},
       "encoding": {"x": {"field":"t","type":"quantitative","scale":{"domain":[-7.59,112.86],"nice":false,"zero":false},"axis":null}, "y": {"field":"v","type":"quantitative","scale":{"domain":[-7.012,1.348],"nice":false,"zero":false},"axis":null}, "detail": {"field":"ph"}}},
      {"data": {"values": [{"t":12.4,"t2":79.5,"v":-1.9}]}, "mark": {"type":"rule","strokeDash":[6,4],"strokeWidth":1.5,"color":"#222222"},
       "encoding": {"x": {"field":"t","type":"quantitative","scale":{"domain":[-7.59,112.86],"nice":false,"zero":false},"axis":null}, "x2": {"field":"t2"}, "y": {"field":"v","type":"quantitative","scale":{"domain":[-7.012,1.348],"nice":false,"zero":false},"axis":null}}}
    ]},
    {"layer": [
      {"data": {"name": "tr"}, "transform": [{"filter": "datum.g === 'fluoxetine'"}], "mark": {"type":"line","color":"#00ff00","strokeWidth":1.5},
       "encoding": {"x": {"field":"t","type":"quantitative","scale":{"domain":[-7.59,112.86],"nice":false,"zero":false},"axis":null}, "y": {"field":"v","type":"quantitative","scale":{"domain":[-4.412,3.948],"nice":false,"zero":false},"axis":null}, "detail": {"field":"ph"}}},
      {"data": {"values": [{"t":12.5,"t2":79.5,"v":-1.6}]}, "mark": {"type":"rule","strokeDash":[6,4],"strokeWidth":1.5,"color":"#222222"},
       "encoding": {"x": {"field":"t","type":"quantitative","scale":{"domain":[-7.59,112.86],"nice":false,"zero":false},"axis":null}, "x2": {"field":"t2"}, "y": {"field":"v","type":"quantitative","scale":{"domain":[-4.412,3.948],"nice":false,"zero":false},"axis":null}}}
    ]},
    {"layer": [
      {"data": {"name": "tr"}, "transform": [{"filter": "datum.g === 'fluoxetine+stress'"}], "mark": {"type":"line","color":"#0000ff","strokeWidth":1.5},
       "encoding": {"x": {"field":"t","type":"quantitative","scale":{"domain":[-7.59,112.86],"nice":false,"zero":false},"axis":null}, "y": {"field":"v","type":"quantitative","scale":{"domain":[-1.612,6.748],"nice":false,"zero":false},"axis":null}, "detail": {"field":"ph"}}},
      {"data": {"values": [{"t":15.1,"t2":79.5,"v":-1.37,"v2":-1.37},{"t":93.2,"t2":93.2,"v":-0.85,"v2":-1.85},{"t":93.2,"t2":103,"v":-1.85,"v2":-1.85}]}, "mark": {"type":"rule","strokeWidth":1.5,"color":"#222222"},
       "encoding": {"x": {"field":"t","type":"quantitative","scale":{"domain":[-7.59,112.86],"nice":false,"zero":false},"axis":null}, "x2": {"field":"t2"}, "y": {"field":"v","type":"quantitative","scale":{"domain":[-1.612,6.748],"nice":false,"zero":false},"axis":null}, "y2": {"field":"v2"},
        "strokeDash": {"condition": {"test": "datum.t === 15.1", "value": [6,4]}, "value": [1,0]}}},
      {"data": {"values": [{"t":89.4,"v":-1.32,"s":"1 mV"},{"t":99.2,"v":-2.21,"s":"10 ms"}]}, "mark": {"type":"text","fontSize":10.5,"baseline":"middle","align":"center","color":"#222222"},
       "encoding": {"x": {"field":"t","type":"quantitative","scale":{"domain":[-7.59,112.86],"nice":false,"zero":false},"axis":null}, "y": {"field":"v","type":"quantitative","scale":{"domain":[-1.612,6.748],"nice":false,"zero":false},"axis":null}, "text": {"field":"s"},
        "angle": {"condition": {"test": "datum.s === '1 mV'", "value": 270}, "value": 0}}}
    ]}
   ]}
 ], "spacing": 78, "bounds": "flush"}
]
}
